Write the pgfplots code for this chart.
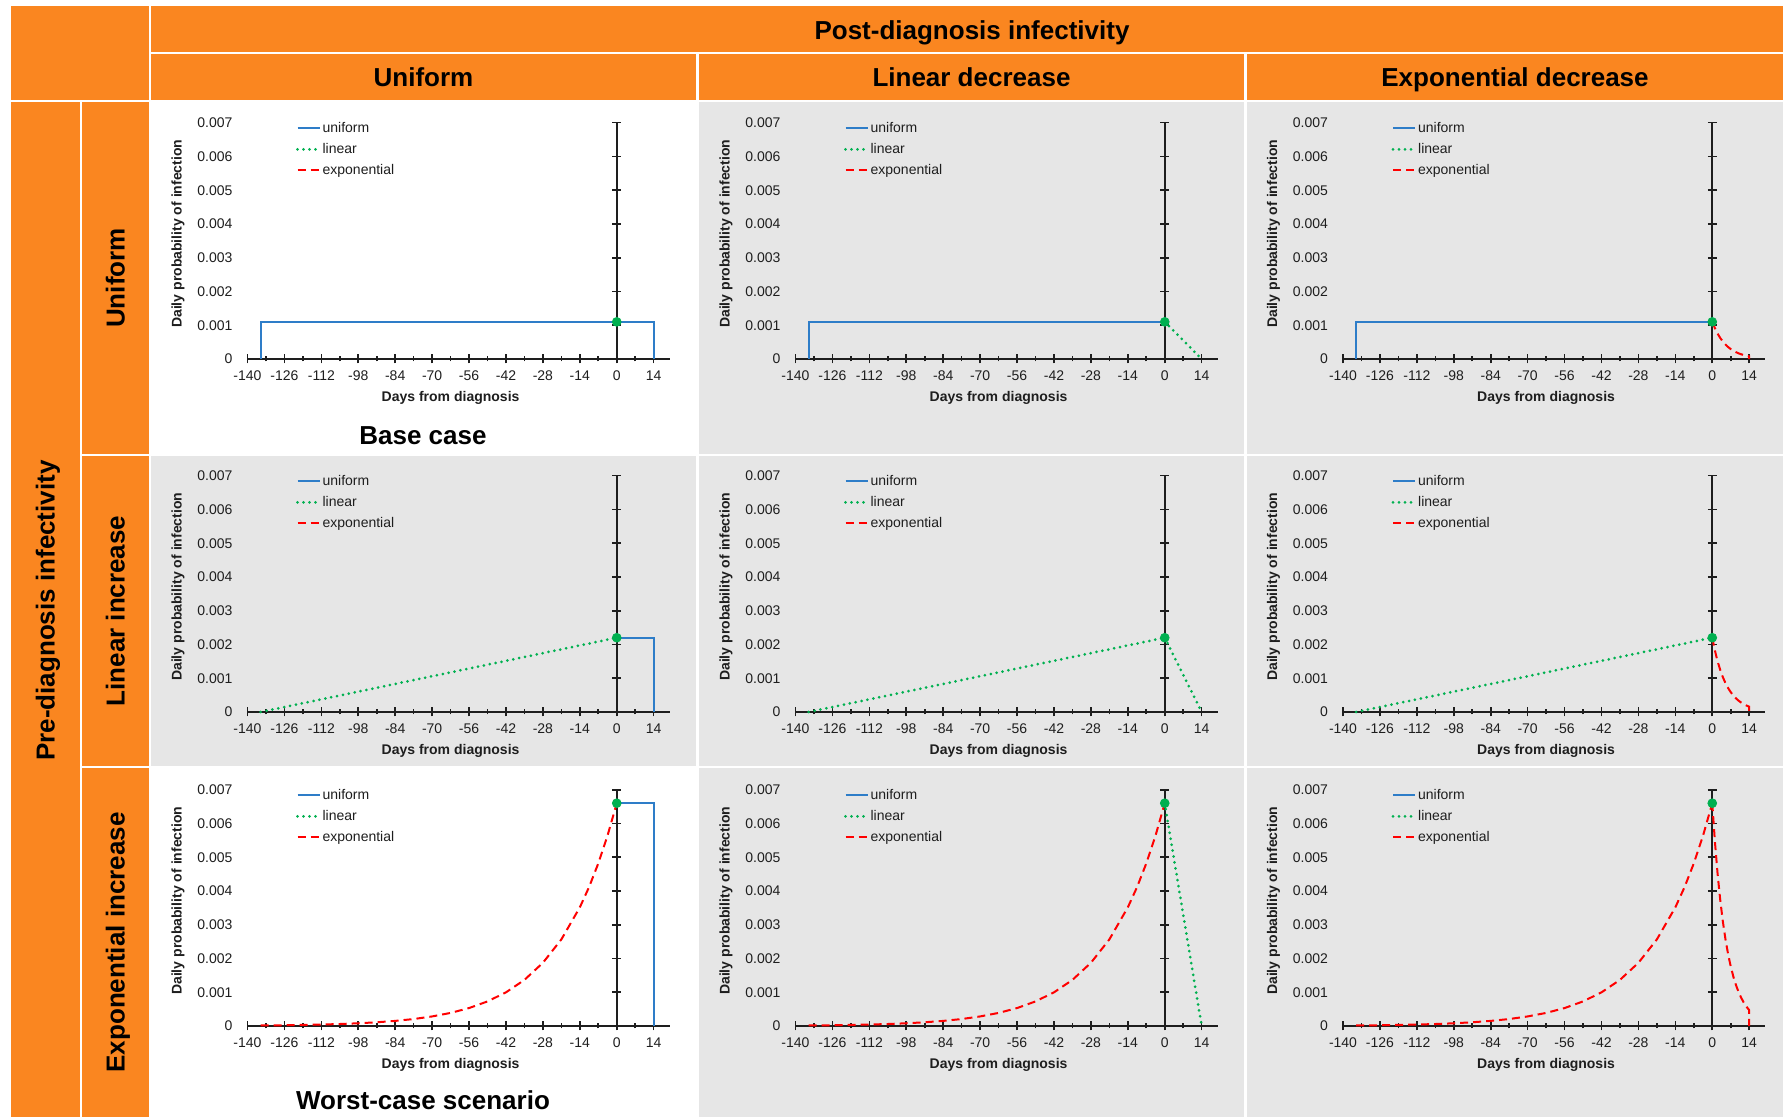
\documentclass[border=0pt]{standalone}
\usepackage{pgfplots}
\pgfplotsset{compat=1.18}
\usepackage{pgfplotstable}
\usepackage{fontspec}
\setmainfont{Liberation Sans}

\definecolor{orng}{RGB}{250,134,32}
\definecolor{panelgray}{RGB}{230,230,230}
\definecolor{cblue}{RGB}{46,125,200}
\definecolor{cgreen}{RGB}{0,176,80}
\definecolor{cred}{RGB}{255,0,0}
\definecolor{axisblack}{RGB}{30,30,30}

\newcommand\hdrfont{\fontsize{13}{15}\selectfont\bfseries}
\newcommand\tickfont{\fontsize{7}{8}\selectfont}

% ---------------- data ----------------
\pgfplotstableread{
x y
-135 0
-135 0.0011
0 0.0011
}\uniPre
\pgfplotstableread{
x y
-135 0
0 0.0022
}\linPre
\pgfplotstableread{
x y
-135 0.0000152
-126 0.0000227
-119 0.0000312
-112 0.0000427
-105 0.0000586
-98 0.0000802
-91 0.000110
-84 0.000151
-77 0.000206
-70 0.000283
-63 0.000387
-56 0.000531
-49 0.000728
-42 0.000997
-35 0.001366
-28 0.001872
-21 0.002565
-14 0.003515
-10.5 0.004115
-7 0.004817
-3.5 0.005638
0 0.0066
}\expPre
% post-diagnosis, peak 0.0011 (A), 0.0022 (B), 0.0066 (C)
\pgfplotstableread{
x y
0 0.0011
14 0.0011
14 0
}\uniPostA
\pgfplotstableread{
x y
0 0.0022
14 0.0022
14 0
}\uniPostB
\pgfplotstableread{
x y
0 0.0066
14 0.0066
14 0
}\uniPostC
\pgfplotstableread{
x y
0 0.0011
14 0
}\linPostA
\pgfplotstableread{
x y
0 0.0022
14 0
}\linPostB
\pgfplotstableread{
x y
0 0.0066
14 0
}\linPostC
\pgfplotstableread{
x y
0 0.0011
1 0.000911
2 0.000754
3 0.000625
4 0.000518
5 0.000429
6 0.000355
7 0.000294
8 0.000244
9 0.000202
10 0.000167
11 0.000138
12 0.000115
13 0.0000948
14 0.0000785
14 0
}\expPostA
\pgfplotstableread{
x y
0 0.0022
1 0.001822
2 0.001509
3 0.001250
4 0.001035
5 0.000857
6 0.000710
7 0.000588
8 0.000487
9 0.000403
10 0.000334
11 0.000277
12 0.000229
13 0.000190
14 0.000157
14 0
}\expPostB
\pgfplotstableread{
x y
0 0.0066
1 0.005466
2 0.004527
3 0.003749
4 0.003105
5 0.002572
6 0.002130
7 0.001764
8 0.001461
9 0.001210
10 0.001002
11 0.000830
12 0.000687
13 0.000569
14 0.000471
14 0
}\expPostC
\pgfplotstableread{
x y
0 0.0011
}\peakA
\pgfplotstableread{
x y
0 0.0022
}\peakB
\pgfplotstableread{
x y
0 0.0066
}\peakC

\pgfplotsset{
  unistyle/.style={cblue, line width=1pt, solid},
  linstyle/.style={cgreen, line width=1.5pt, dash pattern=on 0pt off 3pt, line cap=round},
  expstyle/.style={cred, line width=1pt, dash pattern=on 4pt off 2.5pt},
  peakstyle/.style={only marks, mark=*, mark size=2.2pt, color=cgreen, mark options={solid, fill=cgreen, draw=cgreen}},
  panel/.style={
    scale only axis, width=211pt, height=118.15pt,
    anchor=south west,
    xmin=-140, xmax=20, ymin=0, ymax=0.007,
    axis x line=bottom, axis y line=middle,
    x axis line style={-}, y axis line style={-},
    axis line style={axisblack, line width=1pt},
    hide obscured x ticks=false, hide obscured y ticks=false,
    xtick={-140,-126,-112,-98,-84,-70,-56,-42,-28,-14,0,14},
    xticklabels={-140,-126,-112,-98,-84,-70,-56,-42,-28,-14,0,14},
    minor x tick num=1,
    ytick={0,0.001,0.002,0.003,0.004,0.005,0.006,0.007},
    yticklabels={0,0.001,0.002,0.003,0.004,0.005,0.006,0.007},
    scaled y ticks=false,
    xtick align=center, ytick align=center,
    major tick length=4.5pt, minor tick length=2.5pt,
    tick style={axisblack, line width=0.8pt},
    ticklabel style={font=\tickfont, text=axisblack},
    yticklabel style={anchor=east, xshift=-186.4pt},
    xticklabel style={yshift=-0.2pt},
    xlabel={Days from diagnosis},
    ylabel={Daily probability of infection},
    every axis x label/.style={at={(axis description cs:0.48125,0)}, anchor=center, yshift=-19.5pt, font=\fontsize{7}{8}\selectfont\bfseries, text=axisblack},
    every axis y label/.style={at={(axis description cs:-0.1647,0.53)}, anchor=center, rotate=90, font=\fontsize{7}{8}\selectfont\bfseries, text=axisblack},
    clip=false,
    legend cell align=left,
    legend image code/.code={\draw[##1] (0pt,0pt) -- (11pt,0pt);},
    legend style={draw=none, fill=none, inner sep=0pt, outer sep=0pt,
      at={(axis description cs:0.115,1.0207)}, anchor=north west,
      row sep=0pt, column sep=0pt, font=\tickfont, text=axisblack,
      nodes={inner xsep=0.8pt, inner ysep=2pt, text height=5.2pt, text depth=1.3pt}},
  },
}

\newcommand\legendentries{%
  \addlegendimage{unistyle}\addlegendentry{uniform}
  \addlegendimage{linstyle}\addlegendentry{linear}
  \addlegendimage{expstyle}\addlegendentry{exponential}}

\begin{document}
\begin{tikzpicture}
\useasboundingbox (0pt,0pt) rectangle (891.5pt,558.5pt);
\fill[white] (0pt,0pt) rectangle (891.5pt,558.5pt);

% orange header blocks
\fill[orng] (5.5pt,508.5pt) rectangle (74.5pt,555.5pt);
\fill[orng] (75.5pt,532.5pt) rectangle (891.5pt,555.5pt);
\fill[orng] (75.5pt,508.5pt) rectangle (348pt,531.5pt);
\fill[orng] (349.5pt,508.5pt) rectangle (622pt,531.5pt);
\fill[orng] (623.5pt,508.5pt) rectangle (891.5pt,531.5pt);
\fill[orng] (5.5pt,0pt) rectangle (40pt,507.5pt);
\fill[orng] (41pt,331.5pt) rectangle (74.5pt,507.5pt);
\fill[orng] (41pt,175.5pt) rectangle (74.5pt,330.5pt);
\fill[orng] (41pt,0pt) rectangle (74.5pt,174.5pt);

% panel backgrounds
\fill[panelgray] (349.5pt,331.5pt) rectangle (622pt,507.5pt);
\fill[panelgray] (623.5pt,331.5pt) rectangle (891.5pt,507.5pt);
\fill[panelgray] (75.5pt,175.5pt) rectangle (348pt,330.5pt);
\fill[panelgray] (349.5pt,175.5pt) rectangle (622pt,330.5pt);
\fill[panelgray] (623.5pt,175.5pt) rectangle (891.5pt,330.5pt);
\fill[panelgray] (349.5pt,0pt) rectangle (622pt,174.5pt);
\fill[panelgray] (623.5pt,0pt) rectangle (891.5pt,174.5pt);

% header texts
\node[font=\hdrfont, anchor=base] at (486pt,538.9pt) {Post-diagnosis infectivity};
\node[font=\hdrfont, anchor=base] at (211.75pt,515.4pt) {Uniform};
\node[font=\hdrfont, anchor=base] at (485.75pt,515.4pt) {Linear decrease};
\node[font=\hdrfont, anchor=base] at (757.5pt,515.4pt) {Exponential decrease};
\node[font=\hdrfont, rotate=90, anchor=base] at (27.3pt,253.2pt) {Pre-diagnosis infectivity};
\node[font=\hdrfont, rotate=90, anchor=base] at (62.35pt,419.5pt) {Uniform};
\node[font=\hdrfont, rotate=90, anchor=base] at (62.35pt,253pt) {Linear increase};
\node[font=\hdrfont, rotate=90, anchor=base] at (62.35pt,87.25pt) {Exponential increase};
\node[font=\hdrfont] at (211.5pt,340.75pt) {Base case};
\node[font=\hdrfont] at (211.5pt,8.2pt) {Worst-case scenario};

% ---------- row 1: uniform pre ----------
\begin{axis}[panel, at={(123.75pt,379pt)}]
\legendentries
\addplot[unistyle, forget plot] table {\uniPre};
\addplot[unistyle, forget plot] table {\uniPostA};
\addplot[peakstyle, forget plot] table {\peakA};
\end{axis}
\begin{axis}[panel, at={(397.75pt,379pt)}]
\legendentries
\addplot[unistyle, forget plot] table {\uniPre};
\addplot[linstyle, forget plot] table {\linPostA};
\addplot[peakstyle, forget plot] table {\peakA};
\end{axis}
\begin{axis}[panel, at={(671.5pt,379pt)}]
\legendentries
\addplot[unistyle, forget plot] table {\uniPre};
\addplot[expstyle, forget plot] table {\expPostA};
\addplot[peakstyle, forget plot] table {\peakA};
\end{axis}

% ---------- row 2: linear increase ----------
\begin{axis}[panel, at={(123.75pt,202.5pt)}]
\legendentries
\addplot[linstyle, forget plot] table {\linPre};
\addplot[unistyle, forget plot] table {\uniPostB};
\addplot[peakstyle, forget plot] table {\peakB};
\end{axis}
\begin{axis}[panel, at={(397.75pt,202.5pt)}]
\legendentries
\addplot[linstyle, forget plot] table {\linPre};
\addplot[linstyle, forget plot] table {\linPostB};
\addplot[peakstyle, forget plot] table {\peakB};
\end{axis}
\begin{axis}[panel, at={(671.5pt,202.5pt)}]
\legendentries
\addplot[linstyle, forget plot] table {\linPre};
\addplot[expstyle, forget plot] table {\expPostB};
\addplot[peakstyle, forget plot] table {\peakB};
\end{axis}

% ---------- row 3: exponential increase ----------
\begin{axis}[panel, at={(123.75pt,45.5pt)}]
\legendentries
\addplot[expstyle, forget plot] table {\expPre};
\addplot[unistyle, forget plot] table {\uniPostC};
\addplot[peakstyle, forget plot] table {\peakC};
\end{axis}
\begin{axis}[panel, at={(397.75pt,45.5pt)}]
\legendentries
\addplot[expstyle, forget plot] table {\expPre};
\addplot[linstyle, forget plot] table {\linPostC};
\addplot[peakstyle, forget plot] table {\peakC};
\end{axis}
\begin{axis}[panel, at={(671.5pt,45.5pt)}]
\legendentries
\addplot[expstyle, forget plot] table {\expPre};
\addplot[expstyle, forget plot] table {\expPostC};
\addplot[peakstyle, forget plot] table {\peakC};
\end{axis}
\end{tikzpicture}
\end{document}
